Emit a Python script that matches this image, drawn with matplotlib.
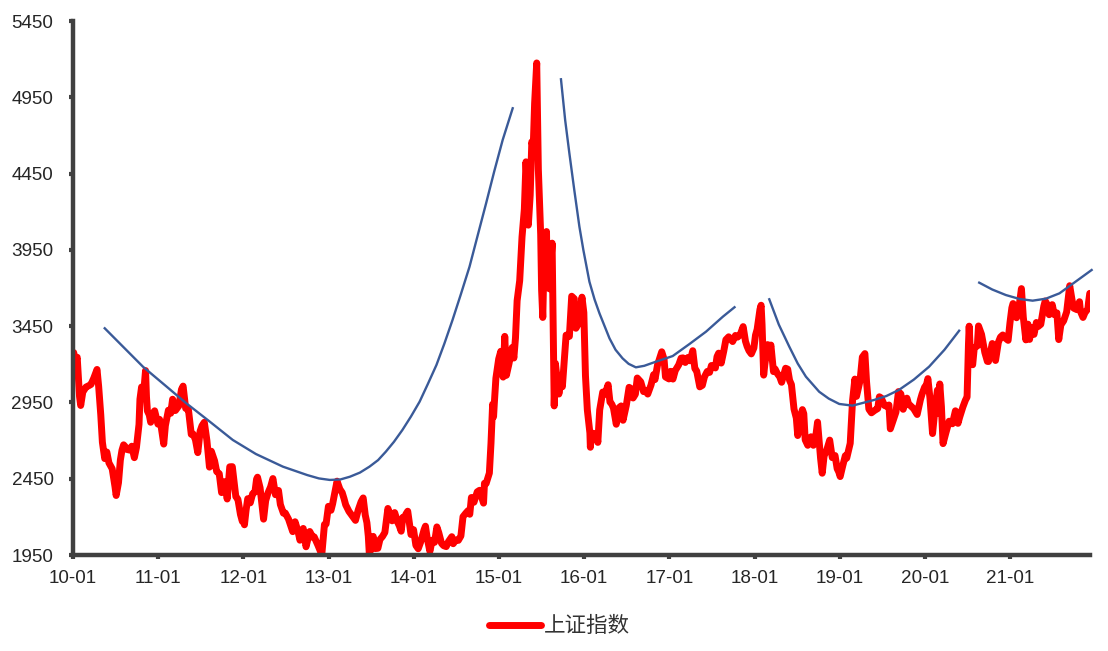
import matplotlib
matplotlib.use('Agg')
import matplotlib.pyplot as plt
import matplotlib.dates as mdates
import pandas as pd

# ---------------- data ----------------
series_name = '上证指数'

d2010 = ['2010-01-04','2010-01-11','2010-01-19','2010-01-29','2010-02-03','2010-02-12','2010-02-26','2010-03-10','2010-03-19','2010-03-31',
         '2010-04-14','2010-04-21','2010-04-30','2010-05-07','2010-05-17','2010-05-26','2010-06-04','2010-06-18','2010-06-30','2010-07-05',
         '2010-07-15','2010-07-23','2010-07-30','2010-08-06','2010-08-13','2010-08-20','2010-08-31','2010-09-10','2010-09-21','2010-09-30',
         '2010-10-11','2010-10-15','2010-10-22','2010-10-29','2010-11-08','2010-11-12','2010-11-16','2010-11-24','2010-11-30','2010-12-10',
         '2010-12-17','2010-12-31']
v2010 = [3277, 3212, 3246, 2989, 2930, 3018, 3051, 3060, 3068, 3109,
         3166, 3055, 2870, 2689, 2582, 2625, 2554, 2515, 2398, 2340,
         2424, 2572, 2637, 2672, 2660, 2642, 2638, 2663, 2588, 2655,
         2806, 2971, 3051, 2978, 3159, 2986, 2894, 2868, 2820, 2880,
         2895, 2808]

d2011 = ['2011-01-07','2011-01-14','2011-01-25','2011-02-01','2011-02-14','2011-02-24','2011-03-04','2011-03-16','2011-03-31','2011-04-11',
         '2011-04-18','2011-04-29','2011-05-11','2011-05-23','2011-05-31','2011-06-10','2011-06-20','2011-06-30','2011-07-08','2011-07-18',
         '2011-07-29','2011-08-09','2011-08-17','2011-08-31','2011-09-09','2011-09-20','2011-09-30','2011-10-14','2011-10-24','2011-11-04',
         '2011-11-15','2011-11-30','2011-12-09','2011-12-20','2011-12-28','2011-12-30']
v2011 = [2839, 2791, 2677, 2798, 2899, 2879, 2971, 2897, 2928, 3035,
         3057, 2911, 2901, 2741, 2743, 2705, 2621, 2762, 2797, 2820,
         2701, 2526, 2630, 2567, 2497, 2483, 2359, 2431, 2317, 2528,
         2529, 2333, 2315, 2215, 2170, 2199]

d2012 = ['2012-01-06','2012-01-13','2012-01-20','2012-01-31','2012-02-10','2012-02-20','2012-02-27','2012-03-02','2012-03-13','2012-03-28',
         '2012-04-06','2012-04-16','2012-04-27','2012-05-07','2012-05-18','2012-05-31','2012-06-08','2012-06-21','2012-06-29','2012-07-13',
         '2012-07-31','2012-08-10','2012-08-22','2012-08-31','2012-09-14','2012-09-26','2012-10-12','2012-10-25','2012-10-31','2012-11-16',
         '2012-11-27','2012-12-03','2012-12-14','2012-12-21','2012-12-31']
v2012 = [2148, 2244, 2319, 2292, 2351, 2363, 2447, 2460, 2391, 2185,
         2306, 2357, 2396, 2451, 2345, 2373, 2281, 2224, 2225, 2185,
         2103, 2168, 2109, 2047, 2124, 2004, 2104, 2066, 2069, 2014,
         1973, 1959, 2150, 2153, 2269]

d2013 = ['2013-01-11','2013-01-18','2013-01-31','2013-02-06','2013-02-18','2013-02-28','2013-03-08','2013-03-15','2013-03-29','2013-04-12',
         '2013-04-26','2013-05-08','2013-05-20','2013-05-29','2013-06-07','2013-06-14','2013-06-20','2013-06-25','2013-06-28','2013-07-05',
         '2013-07-11','2013-07-19','2013-07-31','2013-08-09','2013-08-20','2013-08-30','2013-09-12','2013-09-23','2013-09-30','2013-10-11',
         '2013-10-24','2013-10-31','2013-11-08','2013-11-15','2013-11-22','2013-11-29','2013-12-06','2013-12-20','2013-12-31']
v2013 = [2243, 2285, 2385, 2434, 2382, 2359, 2319, 2279, 2236, 2206,
         2177, 2246, 2299, 2324, 2211, 2162, 2073, 1940, 1979, 2007,
         2072, 1992, 1994, 2052, 2072, 2098, 2255, 2207, 2174, 2228,
         2164, 2141, 2106, 2197, 2196, 2220, 2237, 2084, 2116]

d2014 = ['2014-01-10','2014-01-20','2014-01-30','2014-02-14','2014-02-20','2014-02-28','2014-03-11','2014-03-21','2014-03-31','2014-04-10',
         '2014-04-18','2014-04-30','2014-05-09','2014-05-20','2014-05-30','2014-06-13','2014-06-19','2014-06-30','2014-07-11','2014-07-22',
         '2014-07-31','2014-08-12','2014-08-22','2014-08-29','2014-09-05','2014-09-16','2014-09-30','2014-10-10','2014-10-27','2014-10-31',
         '2014-11-07','2014-11-21','2014-11-28','2014-12-05','2014-12-09','2014-12-12','2014-12-19','2014-12-31']
v2014 = [2013, 1991, 2033, 2115, 2139, 2056, 1974, 2047, 2033, 2134,
         2097, 2026, 2011, 2005, 2039, 2070, 2024, 2048, 2046, 2075,
         2201, 2224, 2241, 2217, 2327, 2296, 2364, 2374, 2290, 2420,
         2418, 2487, 2683, 2938, 2856, 2938, 3108, 3235]

d2015 = ['2015-01-09','2015-01-19','2015-01-26','2015-02-02','2015-02-13','2015-02-27','2015-03-06','2015-03-13','2015-03-20','2015-03-31',
         '2015-04-10','2015-04-20','2015-04-27','2015-04-30','2015-05-07','2015-05-15','2015-05-22','2015-05-28','2015-06-03','2015-06-12',
         '2015-06-19','2015-06-26','2015-06-29','2015-07-03','2015-07-08','2015-07-14','2015-07-24','2015-07-27','2015-08-05','2015-08-17',
         '2015-08-21','2015-08-26','2015-08-31','2015-09-15','2015-09-25','2015-09-30','2015-10-16','2015-10-30','2015-11-09','2015-11-20',
         '2015-11-27','2015-12-09','2015-12-23','2015-12-31']
v2015 = [3285, 3116, 3383, 3128, 3203, 3310, 3241, 3373, 3617, 3748,
         4034, 4217, 4527, 4441, 4112, 4308, 4658, 4620, 4910, 5175,
         4478, 4193, 4053, 3687, 3507, 3924, 4070, 3725, 3695, 3994,
         3507, 2927, 3206, 3005, 3092, 3053, 3391, 3383, 3646, 3630,
         3436, 3470, 3640, 3539]

d2016 = ['2016-01-04','2016-01-07','2016-01-11','2016-01-15','2016-01-26','2016-01-28','2016-02-02','2016-02-15','2016-02-25','2016-02-29',
         '2016-03-08','2016-03-21','2016-03-31','2016-04-13','2016-04-21','2016-04-29','2016-05-06','2016-05-18','2016-05-31','2016-06-08',
         '2016-06-16','2016-06-30','2016-07-12','2016-07-21','2016-07-29','2016-08-08','2016-08-16','2016-08-31','2016-09-12','2016-09-20',
         '2016-09-30','2016-10-14','2016-10-25','2016-10-31','2016-11-11','2016-11-29','2016-12-09','2016-12-15','2016-12-30']
v2016 = [3297, 3125, 3017, 2901, 2750, 2656, 2749, 2746, 2741, 2688,
         2901, 3018, 3004, 3066, 2953, 2938, 2913, 2807, 2917, 2927,
         2833, 2930, 3049, 3040, 2979, 3004, 3110, 3085, 3021, 3026,
         3005, 3064, 3132, 3100, 3196, 3282, 3233, 3117, 3104]

d2017 = ['2017-01-06','2017-01-16','2017-01-26','2017-02-10','2017-02-20','2017-02-28','2017-03-10','2017-03-22','2017-03-31','2017-04-11',
         '2017-04-20','2017-04-28','2017-05-11','2017-05-22','2017-05-31','2017-06-12','2017-06-22','2017-06-30','2017-07-17','2017-07-24',
         '2017-07-31','2017-08-11','2017-08-22','2017-08-31','2017-09-12','2017-09-29','2017-10-11','2017-10-20','2017-10-31','2017-11-13',
         '2017-11-23','2017-11-30','2017-12-08','2017-12-18','2017-12-29']
v2017 = [3154, 3103, 3159, 3197, 3240, 3242, 3212, 3245, 3223, 3289,
         3172, 3155, 3052, 3062, 3117, 3153, 3147, 3192, 3176, 3250,
         3273, 3208, 3287, 3361, 3380, 3349, 3389, 3378, 3393, 3447,
         3351, 3317, 3289, 3268, 3307]

d2018 = ['2018-01-05','2018-01-12','2018-01-24','2018-01-29','2018-02-02','2018-02-09','2018-02-14','2018-02-26','2018-02-28','2018-03-12',
         '2018-03-23','2018-03-30','2018-04-09','2018-04-19','2018-04-27','2018-05-14','2018-05-23','2018-05-31','2018-06-08','2018-06-19',
         '2018-06-29','2018-07-05','2018-07-13','2018-07-25','2018-07-31','2018-08-06','2018-08-17','2018-08-31','2018-09-10','2018-09-18',
         '2018-09-28','2018-10-11','2018-10-18','2018-10-26','2018-11-07','2018-11-19','2018-11-30','2018-12-12','2018-12-21','2018-12-28']
v2018 = [3391, 3429, 3559, 3587, 3462, 3129, 3199, 3329, 3259, 3326,
         3152, 3169, 3138, 3117, 3082, 3174, 3168, 3095, 3067, 2907,
         2847, 2733, 2831, 2903, 2876, 2705, 2669, 2725, 2669, 2700,
         2821, 2583, 2486, 2599, 2641, 2703, 2588, 2602, 2516, 2494]

d2019 = ['2019-01-03','2019-01-14','2019-01-25','2019-01-31','2019-02-15','2019-02-25','2019-03-07','2019-03-14','2019-03-29','2019-04-08',
         '2019-04-19','2019-04-26','2019-05-06','2019-05-17','2019-05-31','2019-06-13','2019-06-20','2019-06-28','2019-07-12','2019-07-24',
         '2019-07-31','2019-08-06','2019-08-16','2019-08-30','2019-09-10','2019-09-20','2019-09-30','2019-10-16','2019-10-23','2019-10-31',
         '2019-11-14','2019-11-29','2019-12-13','2019-12-20','2019-12-31']
v2019 = [2464, 2535, 2601, 2585, 2682, 2961, 3103, 2990, 3091, 3247,
         3270, 3086, 2906, 2882, 2898, 2910, 2987, 2979, 2930, 2923,
         2933, 2777, 2823, 2886, 3021, 3006, 2905, 2978, 2941, 2929,
         2909, 2871, 2968, 3005, 3050]

d2020 = ['2020-01-08','2020-01-14','2020-01-23','2020-02-03','2020-02-14','2020-02-24','2020-02-28','2020-03-05','2020-03-12','2020-03-19',
         '2020-03-31','2020-04-14','2020-04-28','2020-05-11','2020-05-22','2020-05-29','2020-06-12','2020-06-23','2020-06-30','2020-07-06',
         '2020-07-09','2020-07-16','2020-07-24','2020-07-31','2020-08-13','2020-08-18','2020-08-31','2020-09-14','2020-09-25','2020-09-30',
         '2020-10-16','2020-10-27','2020-10-30','2020-11-11','2020-11-20','2020-11-30','2020-12-10','2020-12-23','2020-12-31']
v2020 = [3066, 3106, 2976, 2746, 2917, 3031, 2880, 3071, 2923, 2680,
         2750, 2827, 2810, 2895, 2813, 2852, 2920, 2965, 2985, 3332,
         3450, 3210, 3197, 3310, 3320, 3451, 3396, 3278, 3219, 3218,
         3336, 3254, 3225, 3343, 3378, 3392, 3373, 3357, 3473]

d2021 = ['2021-01-08','2021-01-13','2021-01-20','2021-01-28','2021-02-01','2021-02-10','2021-02-18','2021-02-26','2021-03-09','2021-03-18',
         '2021-03-25','2021-03-31','2021-04-13','2021-04-23','2021-04-30','2021-05-12','2021-05-25','2021-05-31','2021-06-09','2021-06-17',
         '2021-06-30','2021-07-09','2021-07-20','2021-07-28','2021-08-06','2021-08-18','2021-08-31','2021-09-13','2021-09-24','2021-09-30',
         '2021-10-14','2021-10-25','2021-10-29','2021-11-09','2021-11-17','2021-11-30','2021-12-03','2021-12-08']
v2021 = [3570, 3598, 3584, 3505, 3533, 3603, 3696, 3509, 3360, 3463,
         3363, 3441, 3396, 3474, 3447, 3462, 3581, 3615, 3591, 3525,
         3591, 3525, 3537, 3362, 3458, 3485, 3544, 3715, 3613, 3568,
         3558, 3610, 3547, 3507, 3537, 3564, 3608, 3665]

# blue trend curves
c1_dates = ['2010-05-17','2010-08-07','2010-10-28','2011-02-06','2011-05-02','2011-08-08','2011-11-17','2012-02-24','2012-06-19','2012-10-01',
            '2012-11-20','2013-01-06','2013-02-20','2013-04-02','2013-05-15','2013-06-25','2013-08-01','2013-09-03','2013-10-08','2013-11-13',
            '2013-12-20','2014-01-26','2014-03-02','2014-04-08','2014-05-12','2014-06-16','2014-07-22','2014-08-28','2014-10-02','2014-11-07',
            '2014-12-12','2015-01-17','2015-03-01']
c1_vals = [3436, 3310, 3184, 3054, 2944, 2827, 2704, 2612, 2529, 2474,
           2452, 2442, 2445, 2463, 2490, 2529, 2572, 2627, 2692, 2769,
           2858, 2955, 3070, 3195, 3335, 3490, 3660, 3840, 4045, 4255,
           4465, 4670, 4878]

c2_dates = ['2015-09-24','2015-10-12','2015-10-30','2015-11-20','2015-12-12','2015-12-29','2016-01-24','2016-02-15','2016-03-07','2016-04-19',
            '2016-05-15','2016-06-14','2016-07-10','2016-08-10','2016-09-15','2016-11-04','2017-01-15','2017-03-28','2017-06-07','2017-08-18',
            '2017-10-07']
c2_vals = [5068, 4800, 4583, 4343, 4102, 3949, 3741, 3625, 3534, 3370,
           3295, 3239, 3203, 3180, 3190, 3217, 3254, 3333, 3414, 3512,
           3574]

c3_dates = ['2018-03-05','2018-04-15','2018-05-30','2018-07-05','2018-08-09','2018-10-05','2018-11-15','2018-12-30','2019-02-25','2019-05-28',
            '2019-07-20','2019-09-12','2019-11-15','2020-01-19','2020-03-25','2020-05-27']
c3_vals = [3626, 3460, 3315, 3205, 3119, 3020, 2975, 2940, 2929, 2966,
           2992, 3032, 3100, 3184, 3295, 3420]

c4_dates = ['2020-08-21','2020-10-16','2020-12-13','2021-02-10','2021-04-07','2021-06-03','2021-07-31','2021-10-05','2021-12-16']
c4_vals = [3735, 3690, 3654, 3628, 3617, 3630, 3665, 3738, 3818]

y_ticks = [1950, 2450, 2950, 3450, 3950, 4450, 4950, 5450]
x_tick_years = list(range(2010, 2022))

# ---------------- figure ----------------
plt.rcParams['font.family'] = ['Liberation Sans', 'Noto Sans CJK SC', 'DejaVu Sans']

fig = plt.figure(figsize=(11.08, 6.51), dpi=100)
ax = fig.add_axes([73/1108, 1-555/651, (1090-73)/1108, (555-21)/651])

red_dates = pd.to_datetime(d2010 + d2011 + d2012 + d2013 + d2014 + d2015 +
                           d2016 + d2017 + d2018 + d2019 + d2020 + d2021)
red_vals = v2010 + v2011 + v2012 + v2013 + v2014 + v2015 + v2016 + v2017 + v2018 + v2019 + v2020 + v2021

ax.plot(red_dates, red_vals, color='#FF0000', lw=5, solid_joinstyle='round',
        solid_capstyle='round', label=series_name, zorder=2)

blue = '#3A5A98'
for cd, cv in [(c1_dates, c1_vals), (c2_dates, c2_vals), (c3_dates, c3_vals), (c4_dates, c4_vals)]:
    ax.plot(pd.to_datetime(cd), cv, color=blue, lw=1.7, zorder=3, clip_on=False,
            solid_joinstyle='round')

ax.set_ylim(1950, 5450)
ax.set_yticks(y_ticks)
ax.set_xlim(pd.Timestamp('2010-01-01'), pd.Timestamp('2021-12-09'))
ax.set_xticks(pd.to_datetime([f'{y}-01-01' for y in x_tick_years]))
ax.xaxis.set_major_formatter(mdates.DateFormatter('%y-%m'))

for s in ['top', 'right']:
    ax.spines[s].set_visible(False)
for s in ['left', 'bottom']:
    ax.spines[s].set_linewidth(3.2)
    ax.spines[s].set_color('#404040')

ax.tick_params(axis='both', direction='out', length=3, width=3, color='#404040',
               labelsize=13.6, labelcolor='#262626')
ax.tick_params(axis='y', pad=11)
ax.tick_params(axis='x', pad=8)

leg = fig.legend(loc='center', bbox_to_anchor=(0.505, 0.037), frameon=False,
                 fontsize=15.5, handlelength=2.4, handletextpad=0.15)
for t in leg.get_texts():
    t.set_color('#333333')

fig.savefig('out.png', dpi=100)
